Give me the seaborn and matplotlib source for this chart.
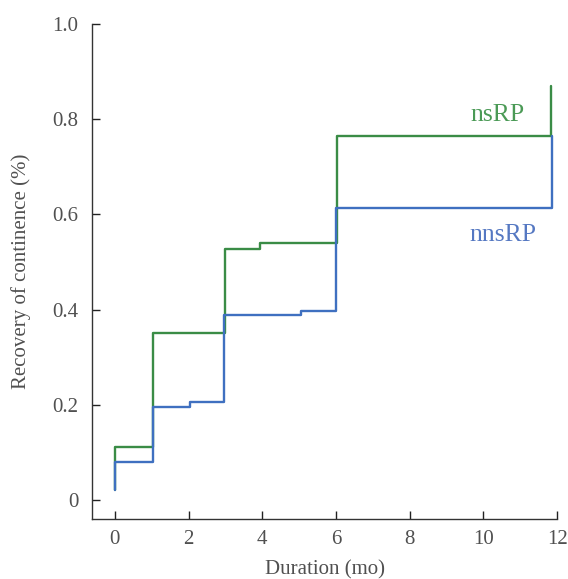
import numpy as np
import pandas as pd
import seaborn as sns
import matplotlib.pyplot as plt

# Kaplan-Meier style cumulative recovery curves
months_ns = [0, 0, 1.03, 3.0, 3.95, 6.02, 11.84, 11.84]
recovery_ns = [0.02, 0.112, 0.351, 0.527, 0.540, 0.765, 0.765, 0.87]

months_nns = [0, 0, 1.03, 2.05, 2.97, 5.05, 6.0, 11.86]
recovery_nns = [0.02, 0.08, 0.196, 0.205, 0.389, 0.397, 0.613, 0.765]

x_ticks = [0, 2, 4, 6, 8, 10, 12]
y_ticks = [0, 0.2, 0.4, 0.6, 0.8, 1.0]
y_ticklabels = ['0', '0.2', '0.4', '0.6', '0.8', '1.0']

green = '#3a8c46'
blue = '#3f70c0'

sns.set_style('ticks')
plt.rcParams['font.family'] = ['Liberation Serif', 'DejaVu Serif']

fig = plt.figure(figsize=(5.68, 5.79), dpi=100)
ax = fig.add_axes([0.162, 0.1036, 0.819, 0.855])

df_ns = pd.DataFrame({'month': months_ns, 'rec': recovery_ns})
df_nns = pd.DataFrame({'month': months_nns, 'rec': recovery_nns})

sns.lineplot(data=df_ns, x='month', y='rec', estimator=None, sort=False,
             drawstyle='steps-post', color=green, lw=1.7, ax=ax)
sns.lineplot(data=df_nns, x='month', y='rec', estimator=None, sort=False,
             drawstyle='steps-post', color=blue, lw=1.7, ax=ax)

ax.text(10.39, 0.809, 'nsRP', color='#4b9a56', fontsize=18.5, ha='center', va='center')
ax.text(10.53, 0.557, 'nnsRP', color='#5578c2', fontsize=18.5, ha='center', va='center')

ax.set_xlim(-0.62, 12.0)
ax.set_ylim(-0.04, 1.0)
ax.set_xticks(x_ticks)
ax.set_yticks(y_ticks)
ax.set_yticklabels(y_ticklabels)
ax.tick_params(direction='in', length=6, width=1, colors='#222222',
               labelcolor='#505050', labelsize=15)
ax.tick_params(axis='x', pad=8)
ax.tick_params(axis='y', pad=10)
sns.despine(ax=ax)
for s in ['left', 'bottom']:
    ax.spines[s].set_color('#333333')
    ax.spines[s].set_linewidth(1)

ax.set_xlabel('Duration (mo)', fontsize=15, color='#505050', labelpad=8)
ax.set_ylabel('Recovery of continence (%)', fontsize=15, color='#505050', labelpad=15)
ax.grid(False)

fig.savefig('out.png', dpi=100)
